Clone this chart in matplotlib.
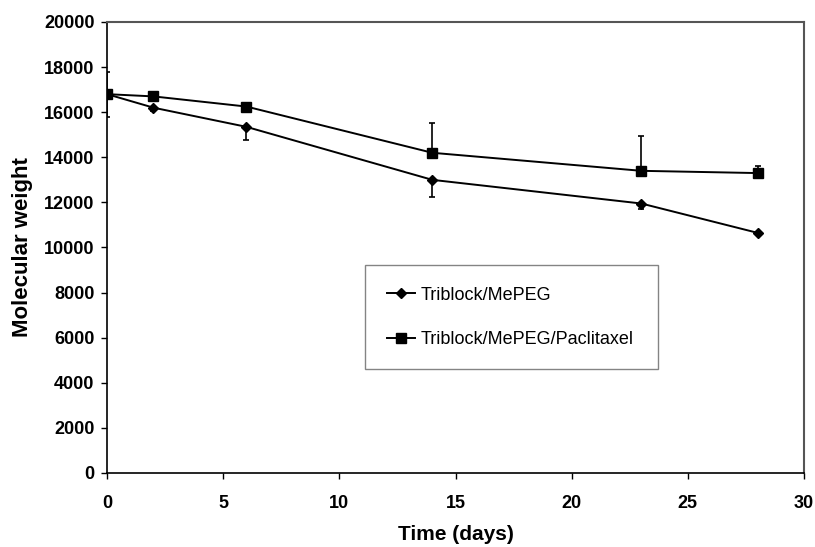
import matplotlib
matplotlib.use("Agg")
import matplotlib.pyplot as plt
from matplotlib.lines import Line2D

# Degradation time points (days)
days = [0, 2, 6, 14, 23, 28]

# Molecular weight, Triblock/MePEG (diamonds) with downward error bars
mw_mepeg = [16800, 16200, 15350, 13000, 11950, 10650]
err_mepeg = [1000, 150, 600, 750, 250, 60]

# Molecular weight, Triblock/MePEG/Paclitaxel (squares) with upward error bars
mw_pacli = [16800, 16700, 16250, 14200, 13400, 13300]
err_pacli = [1000, 40, 40, 1330, 1550, 300]

label_mepeg = "Triblock/MePEG"
label_pacli = "Triblock/MePEG/Paclitaxel"

x_ticks = [0, 5, 10, 15, 20, 25, 30]
y_ticks = list(range(0, 20001, 2000))

plt.rcParams["font.family"] = ["Liberation Sans", "DejaVu Sans"]

fig = plt.figure(figsize=(8.15, 5.47), dpi=100)
ax = fig.add_axes([0.1313, 0.1353, 0.8552, 0.8245])

zeros = [0] * len(days)
ax.errorbar(days, mw_mepeg, yerr=[err_mepeg, zeros], color="black", lw=1.4,
            marker="D", ms=5, capsize=2.5, elinewidth=1.2, capthick=1.2)
ax.errorbar(days, mw_pacli, yerr=[zeros, err_pacli], color="black", lw=1.4,
            marker="s", ms=6.5, capsize=2.5, elinewidth=1.2, capthick=1.2)

ax.set_xlim(0, 30)
ax.set_ylim(0, 20000)
ax.set_xticks(x_ticks)
ax.set_yticks(y_ticks)
ax.tick_params(direction="out", length=4, width=1, labelsize=13)
ax.tick_params(axis="x", pad=12)
ax.tick_params(axis="y", pad=5)
for lab in ax.get_xticklabels() + ax.get_yticklabels():
    lab.set_fontweight("bold")

for side in ["left", "bottom"]:
    ax.spines[side].set_linewidth(1.2)
    ax.spines[side].set_color("black")
for side in ["top", "right"]:
    ax.spines[side].set_linewidth(1.5)
    ax.spines[side].set_color("#555555")

ax.set_xlabel("Time (days)", fontsize=15, fontweight="bold", labelpad=9)
ax.set_ylabel("Molecular weight", fontsize=16, fontweight="bold", labelpad=8)

handles = [
    Line2D([], [], color="black", lw=1.4, marker="D", ms=5),
    Line2D([], [], color="black", lw=1.4, marker="s", ms=6.5),
]
leg = ax.legend(handles, [label_mepeg, label_pacli], loc="upper left",
                bbox_to_anchor=(0.370, 0.248, 0.42, 0.213), mode="expand",
                fontsize=13, frameon=True, fancybox=False,
                edgecolor="#666666", labelspacing=1.5, handlelength=1.6,
                handletextpad=0.3, borderpad=1.2, borderaxespad=0)
leg.get_frame().set_linewidth(1.0)

fig.savefig("out.png", dpi=100)
